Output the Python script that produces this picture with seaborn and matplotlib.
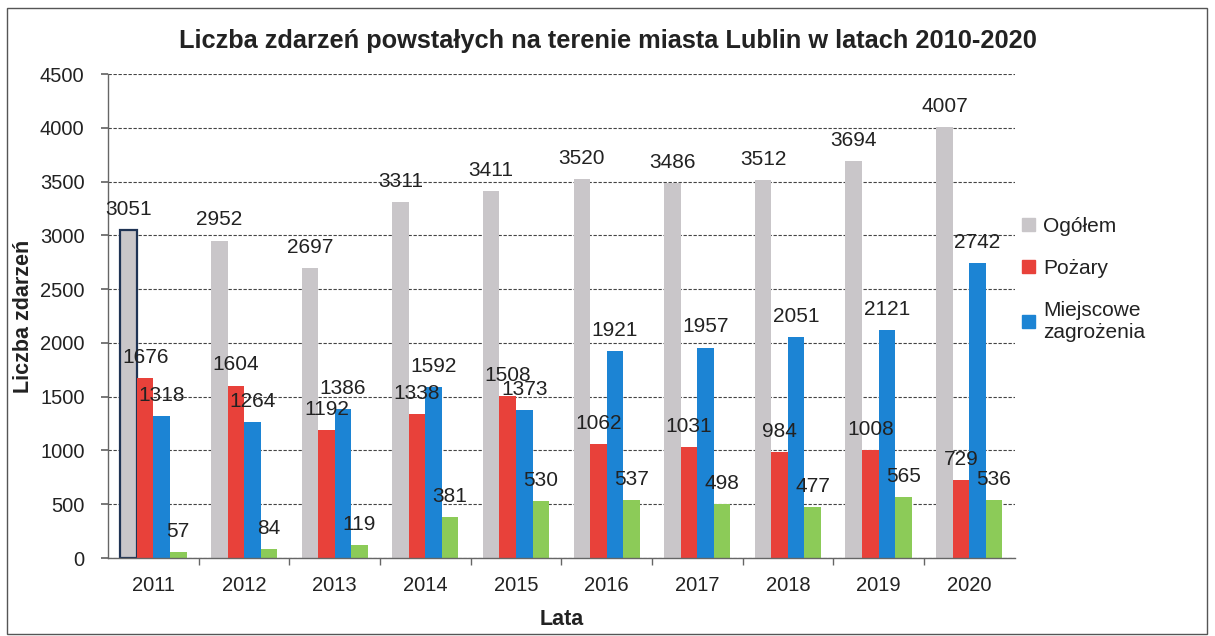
import matplotlib
matplotlib.use("Agg")
import matplotlib.pyplot as plt
import matplotlib.patches as mpatches
import seaborn as sns
import pandas as pd

years = ["2011", "2012", "2013", "2014", "2015", "2016", "2017", "2018", "2019", "2020"]
ogolem = [3051, 2952, 2697, 3311, 3411, 3520, 3486, 3512, 3694, 4007]
pozary = [1676, 1604, 1192, 1338, 1508, 1062, 1031, 984, 1008, 729]
miejscowe = [1318, 1264, 1386, 1592, 1373, 1921, 1957, 2051, 2121, 2742]
alarmy = [57, 84, 119, 381, 530, 537, 498, 477, 565, 536]

series_names = ["Ogółem", "Pożary", "Miejscowe zagrożenia", "Alarmy fałszywe"]
legend_labels = ["Ogółem", "Pożary", "Miejscowe\nzagrożenia"]
colors = ["#C9C6C9", "#E8413A", "#1C84D4", "#8CCB58"]

rows = []
for name, vals in zip(series_names, [ogolem, pozary, miejscowe, alarmy]):
    for y, v in zip(years, vals):
        rows.append({"Lata": y, "Seria": name, "Wartość": v})
df = pd.DataFrame(rows)

sns.set_theme(style="white")
plt.rcParams["font.family"] = ["Liberation Sans", "DejaVu Sans"]

fig = plt.figure(figsize=(12.15, 6.36), dpi=100)
ax = fig.add_axes([0.089, 0.1226, 0.746, 0.761])

sns.barplot(data=df, x="Lata", y="Wartość", hue="Seria", order=years,
            hue_order=series_names, palette=colors, width=0.73,
            saturation=1, ax=ax, legend=False, linewidth=0)

for cont in ax.containers:
    ax.bar_label(cont, fmt="%d", padding=8, fontsize=15, color="#222222")

# highlighted first bar outline
first = ax.containers[0].patches[0]
first.set_edgecolor("#1F3354")
first.set_linewidth(1.6)

ax.set_ylim(0, 4500)
ax.set_xlim(-0.5, len(years) - 0.5)
ax.set_yticks(range(0, 4501, 500))
ax.yaxis.grid(True, color="#444444", linestyle=(0, (3, 1.5)), linewidth=0.8)
ax.set_axisbelow(True)
for s in ["top", "right"]:
    ax.spines[s].set_visible(False)
for s in ["left", "bottom"]:
    ax.spines[s].set_color("#666666")
    ax.spines[s].set_linewidth(1.0)

ax.tick_params(axis="y", which="major", length=5, color="#666666", labelsize=14.5, left=True, pad=12, labelcolor="#222222")
ax.tick_params(axis="x", which="major", length=0, labelsize=14.5, pad=13, labelcolor="#222222")
ax.set_xticks([i + 0.5 for i in range(len(years) - 1)], minor=True)
ax.tick_params(axis="x", which="minor", length=5, color="#666666", bottom=True)

ax.set_xlabel("Lata", fontsize=15.5, fontweight="bold", labelpad=10, color="#222222")
ax.set_ylabel("Liczba zdarzeń", fontsize=15.5, fontweight="bold", labelpad=4, color="#222222")

fig.text(0.5, 0.935, "Liczba zdarzeń powstałych na terenie miasta Lublin w latach 2010-2020",
         ha="center", va="center", fontsize=18.3, fontweight="bold", color="#222222")

handles = [mpatches.Patch(color=c) for c in colors[:3]]
fig.legend(handles, legend_labels, loc="upper left", bbox_to_anchor=(0.826, 0.688),
           frameon=False, fontsize=15, handlelength=0.6, handleheight=0.6,
           handletextpad=0.4, labelspacing=1.1, labelcolor="#222222")

fig.add_artist(mpatches.Rectangle((0.0058, 0.003), 0.988, 0.984, transform=fig.transFigure,
                                  fill=False, edgecolor="#555555", linewidth=1.0))

fig.savefig("out.png", dpi=100)
